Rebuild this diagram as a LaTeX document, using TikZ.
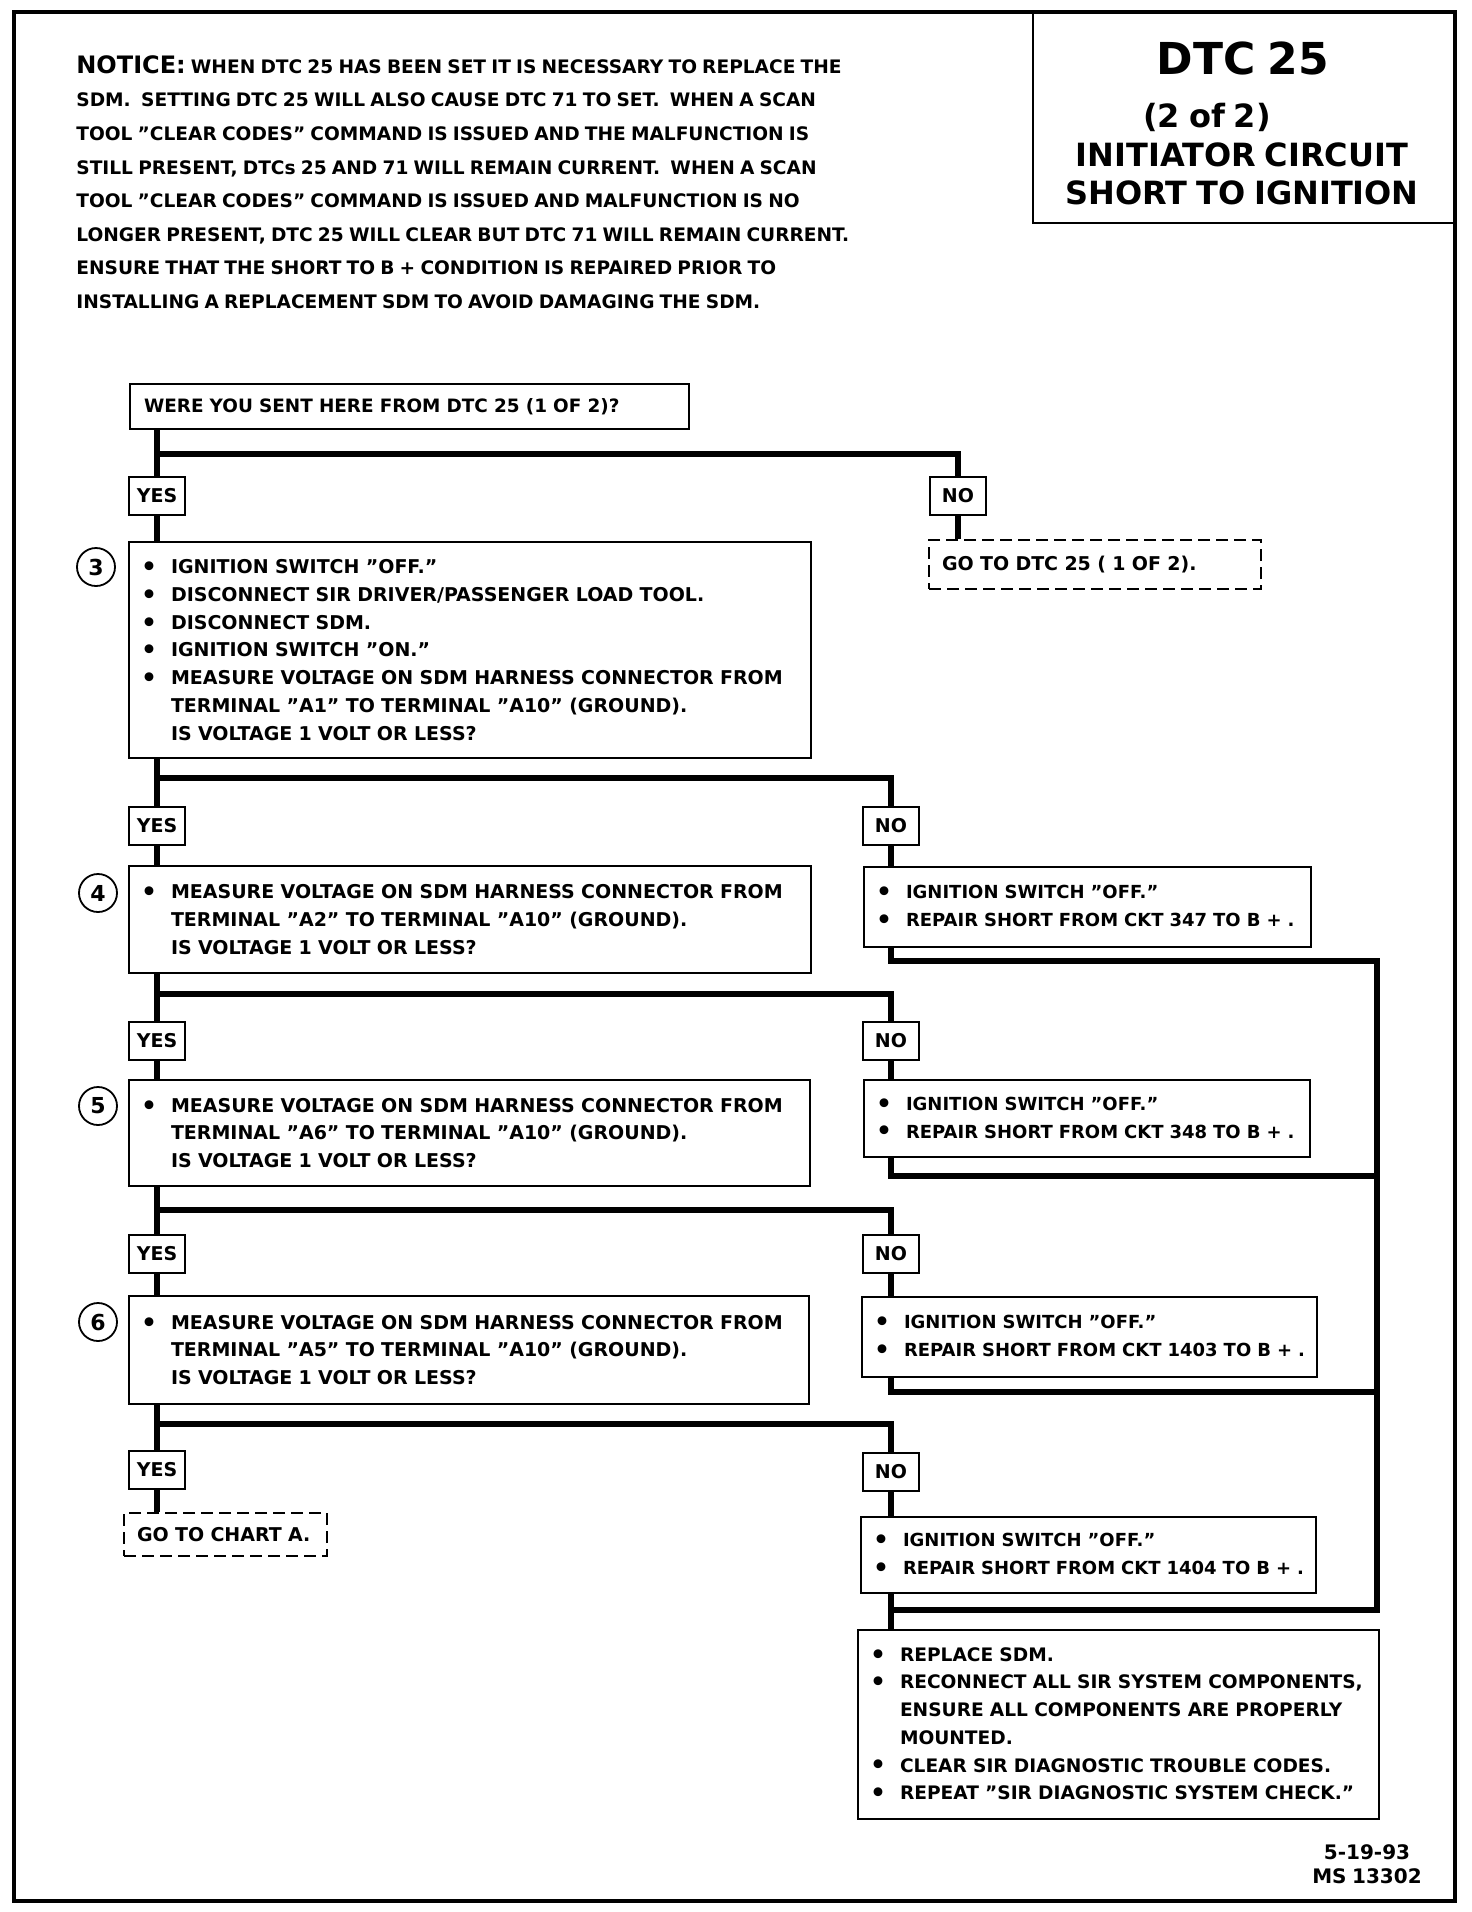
\documentclass[tikz,border=0pt]{standalone}
\usepackage{fontspec}
\setmainfont{DejaVu Sans}[WordSpace=0.8]
\usetikzlibrary{positioning,calc}
\newcommand{\bul}{\makebox[15pt][l]{\raisebox{-0.9pt}{\fontsize{12.5}{12}\selectfont\textbullet}}}
\newcommand{\bulgap}{\hspace*{15pt}}

\begin{document}
\begin{tikzpicture}[x=0.5pt,y=-0.5pt,
  stepbox/.style={draw,line width=1pt,anchor=north west,align=left,inner xsep=6pt,inner ysep=0pt,
    font=\fontsize{9.5}{13.85}\selectfont\bfseries},
  fixbox/.style={stepbox,font=\fontsize{9}{13.85}\selectfont\bfseries},
  gobox/.style={stepbox,dash pattern=on 6pt off 3pt,inner xsep=6.5pt},
  answer/.style={draw,line width=1pt,minimum width=28pt,minimum height=19pt,inner sep=0pt,
    font=\fontsize{9.5}{11}\selectfont\bfseries},
  stepnum/.style={circle,draw,line width=0.9pt,minimum size=19pt,inner sep=0pt,
    font=\fontsize{11}{12}\selectfont\bfseries},
  flow/.style={line width=3pt},
  title/.style={inner sep=0pt,font=\fontsize{16}{18}\selectfont\bfseries}
]
  \useasboundingbox (0,0) rectangle (1472,1912);
  % Frame and title block
  \draw[line width=2.2pt] (14,12) rectangle (1455,1901);
  \node[draw,line width=1.2pt,anchor=north west,minimum width=211.5pt,minimum height=105pt,inner sep=0pt] (head) at (1032,12) {};
  \node[title,font=\fontsize{22}{24}\selectfont\bfseries] (dtc) at (1243,58) {DTC 25};
  \node[title] (part) at (1207,117) {(2 of 2)};
  \node[title] (circ) at (1242,155) {INITIATOR CIRCUIT};
  \node[title] (shrt) at (1242,193) {SHORT TO IGNITION};
  % Notice
  \node[anchor=north west,align=left,inner sep=0pt,font=\fontsize{9.3}{16.8}\selectfont\bfseries] (notice) at (76,55)
    {{\fontsize{12}{16.8}\selectfont NOTICE:} WHEN DTC 25 HAS BEEN SET IT IS NECESSARY TO REPLACE THE\\
     SDM.\ \ SETTING DTC 25 WILL ALSO CAUSE DTC 71 TO SET.\ \ WHEN A SCAN\\
     TOOL "CLEAR CODES" COMMAND IS ISSUED AND THE MALFUNCTION IS\\
     STILL PRESENT, DTCs 25 AND 71 WILL REMAIN CURRENT.\ \ WHEN A SCAN\\
     TOOL "CLEAR CODES" COMMAND IS ISSUED AND MALFUNCTION IS NO\\
     LONGER PRESENT, DTC 25 WILL CLEAR BUT DTC 71 WILL REMAIN CURRENT.\\
     ENSURE THAT THE SHORT TO B + CONDITION IS REPAIRED PRIOR TO\\
     INSTALLING A REPLACEMENT SDM TO AVOID DAMAGING THE SDM.};
  % Steps
  \node[stepbox,inner xsep=7pt,text width=265.5pt,minimum height=22.5pt,font=\fontsize{9.2}{13.85}\selectfont\bfseries] (q1) at (129,383)
    {WERE YOU SENT HERE FROM DTC 25 (1 OF 2)?};
  \node[answer] (yes1) at (157,496) {YES};
  \node[answer] (no1) at (958,496) {NO};
  \node[gobox,text width=153pt,minimum height=24.5pt] (go1) at (928,539) {GO TO DTC 25 ( 1 OF 2).};
  \node[stepbox,text width=329pt,minimum height=108pt] (s3) at (128,541)
    {\bul IGNITION SWITCH "OFF."\\
     \bul DISCONNECT SIR DRIVER/PASSENGER LOAD TOOL.\\
     \bul DISCONNECT SDM.\\
     \bul IGNITION SWITCH "ON."\\
     \bul MEASURE VOLTAGE ON SDM HARNESS CONNECTOR FROM\\
     \bulgap TERMINAL "A1" TO TERMINAL "A10" (GROUND).\\
     \bulgap IS VOLTAGE 1 VOLT OR LESS?};
  \node[stepnum] (c3) at (96,567) {3};
  \node[answer] (yes2) at (157,826) {YES};
  \node[answer] (no2) at (891,826) {NO};
  \node[stepbox,text width=329pt,minimum height=53.5pt] (s4) at (128,865)
    {\bul MEASURE VOLTAGE ON SDM HARNESS CONNECTOR FROM\\
     \bulgap TERMINAL "A2" TO TERMINAL "A10" (GROUND).\\
     \bulgap IS VOLTAGE 1 VOLT OR LESS?};
  \node[stepnum] (c4) at (98,893) {4};
  \node[fixbox,text width=211.5pt,minimum height=40pt] (r1) at (863,866)
    {\bul IGNITION SWITCH "OFF."\\
     \bul \mbox{REPAIR SHORT FROM CKT 347 TO B + .}};
  \node[answer] (yes3) at (157,1041) {YES};
  \node[answer] (no3) at (891,1041) {NO};
  \node[stepbox,text width=328.5pt,minimum height=53pt] (s5) at (128,1079)
    {\bul MEASURE VOLTAGE ON SDM HARNESS CONNECTOR FROM\\
     \bulgap TERMINAL "A6" TO TERMINAL "A10" (GROUND).\\
     \bulgap IS VOLTAGE 1 VOLT OR LESS?};
  \node[stepnum] (c5) at (98,1106) {5};
  \node[fixbox,text width=211pt,minimum height=38.5pt] (r2) at (863,1079)
    {\bul IGNITION SWITCH "OFF."\\
     \bul \mbox{REPAIR SHORT FROM CKT 348 TO B + .}};
  \node[answer] (yes4) at (157,1254) {YES};
  \node[answer] (no4) at (891,1254) {NO};
  \node[stepbox,text width=328pt,minimum height=54pt] (s6) at (128,1295)
    {\bul MEASURE VOLTAGE ON SDM HARNESS CONNECTOR FROM\\
     \bulgap TERMINAL "A5" TO TERMINAL "A10" (GROUND).\\
     \bulgap IS VOLTAGE 1 VOLT OR LESS?};
  \node[stepnum] (c6) at (98,1322) {6};
  \node[fixbox,text width=215.5pt,minimum height=40pt] (r3) at (861,1296)
    {\bul IGNITION SWITCH "OFF."\\
     \bul \mbox{REPAIR SHORT FROM CKT 1403 TO B + .}};
  \node[answer] (yes5) at (157,1470) {YES};
  \node[answer] (no5) at (891,1472) {NO};
  \node[gobox,text width=88.5pt,minimum height=21.5pt] (go2) at (123,1512) {GO TO CHART A.};
  \node[fixbox,text width=215.5pt,minimum height=38pt] (r4) at (860,1516)
    {\bul IGNITION SWITCH "OFF."\\
     \bul \mbox{REPAIR SHORT FROM CKT 1404 TO B + .}};
  \node[stepbox,text width=248.5pt,minimum height=94.5pt,font=\fontsize{9.3}{13.85}\selectfont\bfseries] (fin) at (857,1629)
    {\bul REPLACE SDM.\\
     \bul \mbox{RECONNECT ALL SIR SYSTEM COMPONENTS,}\\
     \bulgap ENSURE ALL COMPONENTS ARE PROPERLY\\
     \bulgap MOUNTED.\\
     \bul CLEAR SIR DIAGNOSTIC TROUBLE CODES.\\
     \bul REPEAT "SIR DIAGNOSTIC SYSTEM CHECK."};
  \node[align=center,inner sep=0pt,font=\fontsize{10}{11.8}\selectfont\bfseries] (date) at (1367,1864) {5-19-93\\MS 13302};
  % Branch points
  \coordinate (sp1) at (0,454);
  \coordinate (sp2) at (0,778);
  \coordinate (sp3) at (0,994);
  \coordinate (sp4) at (0,1210);
  \coordinate (sp5) at (0,1424);
  \coordinate (bus1) at (1377,961);
  \coordinate (bus2) at (1377,1176);
  \coordinate (bus3) at (1377,1392);
  \coordinate (bus4) at (1377,1610);
  % Connectors
  \draw[flow] (q1.south -| yes1) -- (yes1.north);
  \draw[flow] (yes1.north |- sp1) -| (no1.north);
  \draw[flow] (yes1.south) -- (s3.north -| yes1);
  \draw[flow] (no1.south) -- (go1.north -| no1);
  \draw[flow] (s3.south -| yes2) -- (yes2.north);
  \draw[flow] (yes2.north |- sp2) -| (no2.north);
  \draw[flow] (yes2.south) -- (s4.north -| yes2);
  \draw[flow] (no2.south) -- (r1.north -| no2);
  \draw[flow] (s4.south -| yes3) -- (yes3.north);
  \draw[flow] (yes3.north |- sp3) -| (no3.north);
  \draw[flow] (yes3.south) -- (s5.north -| yes3);
  \draw[flow] (no3.south) -- (r2.north -| no3);
  \draw[flow] (s5.south -| yes4) -- (yes4.north);
  \draw[flow] (yes4.north |- sp4) -| (no4.north);
  \draw[flow] (yes4.south) -- (s6.north -| yes4);
  \draw[flow] (no4.south) -- (r3.north -| no4);
  \draw[flow] (s6.south -| yes5) -- (yes5.north);
  \draw[flow] (yes5.north |- sp5) -| (no5.north);
  \draw[flow] (yes5.south) -- (go2.north -| yes5);
  \draw[flow] (no5.south) -- (r4.north -| no5);
  % Repair paths to final box
  \draw[flow] (r1.south -| no2) |- (bus1) -- (bus4) -- (bus4 -| no5);
  \draw[flow] (r2.south -| no3) |- (bus2);
  \draw[flow] (r3.south -| no4) |- (bus3);
  \draw[flow] (r4.south -| no5) -- (fin.north -| no5);
\end{tikzpicture}
\end{document}
